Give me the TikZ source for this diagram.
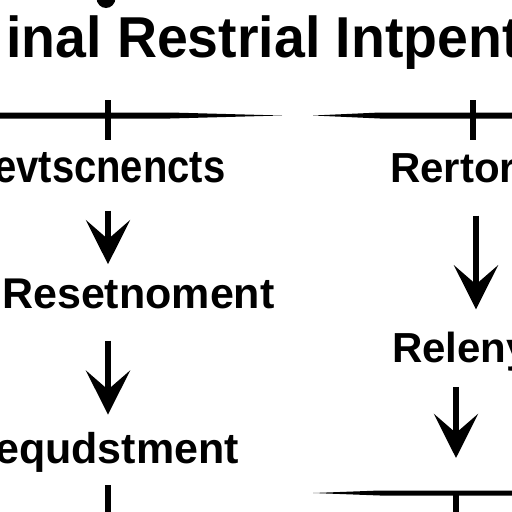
\documentclass[tikz,border=0pt]{standalone}
\usepackage{fontspec}
\setmainfont{Liberation Sans}
\usetikzlibrary{arrows.meta}
\begin{document}
\begin{tikzpicture}[x=1pt,y=-1pt,
  lbl/.style={font=\bfseries\fontsize{42}{46}\selectfont, inner sep=0pt, anchor=base west},
  ttl/.style={font=\bfseries\fontsize{56}{60}\selectfont, inner sep=0pt, anchor=base west},
  arr/.style={line width=6pt, -{Stealth[length=44pt,width=44pt,inset=19pt]}},
  rule/.style={fill=black, draw=none},
  tick/.style={line width=6pt}]
\useasboundingbox (0,0) rectangle (512,512);
\clip (0,0) rectangle (512,512);
\fill[white] (0,0) rectangle (512,512);
% column coordinates
\coordinate (lcol) at (108,0);
\coordinate (rcol) at (476,0);
\coordinate (rcolb) at (456,0);
% top blob
\fill (106,-2) ellipse [x radius=9.5pt, y radius=10pt];
% title
\node[ttl] (title) at (6,57) {\scalebox{0.99}[1.03]{inal Restrial Intpent}};
% top rules
\fill[rule] (0,112.5) -- (170,112.5) -- (282,115.5) -- (170,118.5) -- (0,118.5) -- cycle;
\fill[rule] (313,115.5) -- (380,112.5) -- (512,112.5) -- (512,118.5) -- (380,118.5) -- cycle;
\coordinate (tl) at (108,100);
\coordinate (tr) at (473,100);
\draw[tick] (tl) -- ++(0,40);
\draw[tick] (tr) -- ++(0,40);
% left column
\node[lbl, font=\bfseries\fontsize{40}{44}\selectfont] (n1) at (-6,182) {\scalebox{1}[1.15]{evtscnencts}};
\node[lbl, font=\bfseries\fontsize{43}{46}\selectfont] (n2) at (2,308) {Resetnoment};
\node[lbl, font=\bfseries\fontsize{43}{46}\selectfont] (n3) at (-5,463) {equdstment};
% right column
\node[lbl] (r1) at (390,182) {Rertor};
\node[lbl] (r2) at (392,362) {Releny};
% arrows
\draw[arr, shorten <=28pt, shorten >=14pt] (n1.south -| lcol) -- (n2.north -| lcol);
\draw[arr, shorten <=32pt, shorten >=17pt] (n2.south -| lcol) -- (n3.north -| lcol);
\draw[arr, shorten <=33pt, shorten >=22pt] (r1.south -| rcol) -- (r2.north -| rcol);
% bottom right rule
\fill[rule] (313,493) -- (380,490.5) -- (512,490.5) -- (512,495.5) -- (380,495.5) -- cycle;
\coordinate (br) at (456,493);
\draw[tick] (br) -- ++(0,20);
\draw[arr, shorten <=16pt, shorten >=35pt] (r2.south -| rcolb) -- (br);
% bottom left line
\coordinate (bl) at (108,515);
\draw[tick, shorten <=13pt] (n3.south -| lcol) -- (bl);
\end{tikzpicture}
\end{document}
